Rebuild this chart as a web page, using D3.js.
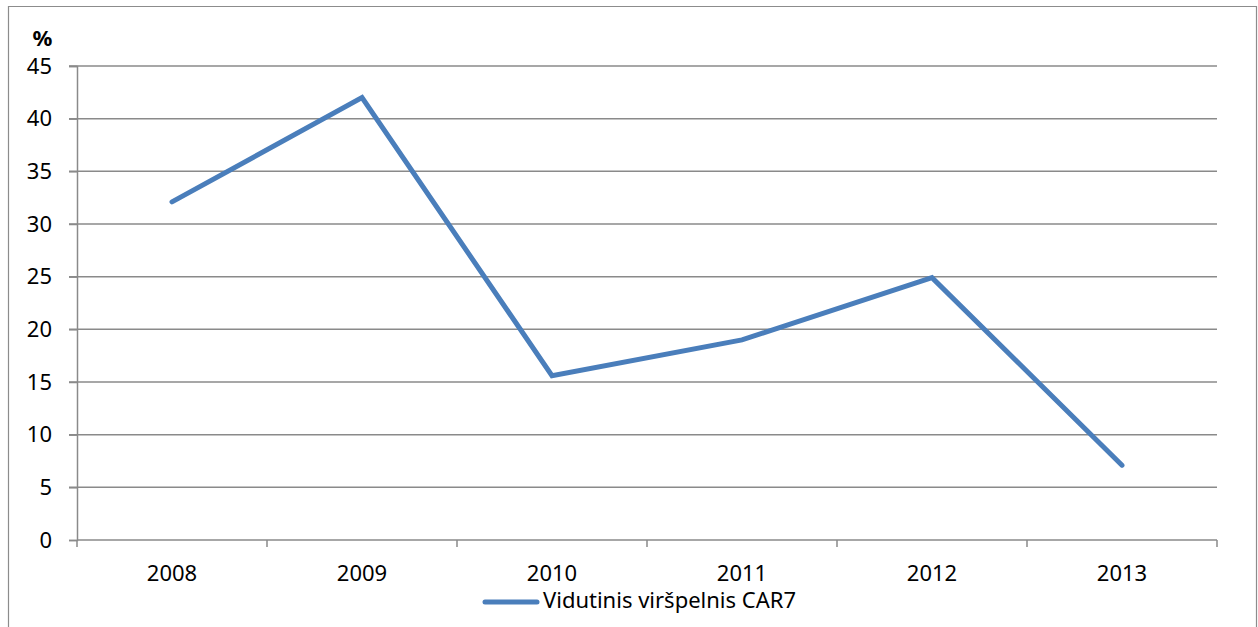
<!DOCTYPE html>
<html><head><meta charset="utf-8">
<script src="https://cdn.jsdelivr.net/npm/d3@7"></script>
<style>body{margin:0;background:#fff}svg{display:block}</style>
</head><body>
<script>
const categories = ["2008","2009","2010","2011","2012","2013"];
const values = [32.1, 42.0, 15.6, 19.0, 24.9, 7.1];
const yTicks = [0,5,10,15,20,25,30,35,40,45];
const seriesName = "Vidutinis viršpelnis CAR7";

(function(){
const W = 1258, H = 627;
const svg = d3.select("body").append("svg").attr("width", W).attr("height", H);
const font = "'Noto Sans', 'Open Sans', sans-serif";
const fs = 22;

// frame
svg.append("path").attr("d", `M8.5,${H} V6.5 H1256.5 V${H}`).attr("fill","none").attr("stroke","#8c8c8c").attr("stroke-width",1.2);

const pl = 77, pr = 1217, pt = 66, pb = 540;
const x = d3.scaleBand().domain(categories).range([pl, pr]);
const y = d3.scaleLinear().domain([0,45]).range([pb, pt]);

// gridlines
svg.append("g").selectAll("line").data(yTicks.filter(d=>d>0)).join("line")
  .attr("x1", pl-8).attr("x2", pr).attr("y1", d=>y(d)).attr("y2", d=>y(d))
  .attr("stroke","#8a8a8a").attr("stroke-width",1.5);

// y axis
const yAxis = d3.axisLeft(y).tickValues(yTicks).tickSize(8).tickPadding(17).tickFormat(d3.format("d"));
const gy = svg.append("g").attr("transform",`translate(${pl},0)`).call(yAxis);
gy.select(".domain").attr("stroke","#8a8a8a").attr("stroke-width",1.5);
gy.selectAll(".tick line").attr("stroke","#8a8a8a").attr("stroke-width",1.5);
gy.selectAll("text").attr("font-family",font).attr("font-size",fs).attr("fill","#000");

// x axis
const xAxis = d3.axisBottom(x).tickSize(0).tickPadding(25);
const gx = svg.append("g").attr("transform",`translate(0,${pb})`).call(xAxis);
gx.select(".domain").attr("d", `M${pl},0H${pr}`).attr("stroke","#8a8a8a").attr("stroke-width",1.5);
gx.selectAll("text").attr("font-family",font).attr("font-size",fs).attr("fill","#000");
const bounds = categories.map(c=>x(c)).concat([pr]);
svg.append("g").selectAll("line").data(bounds).join("line")
  .attr("x1",d=>d).attr("x2",d=>d).attr("y1",pb).attr("y2",pb+7)
  .attr("stroke","#8a8a8a").attr("stroke-width",1.5);

// % label
svg.append("text").attr("x",42.5).attr("y",46).attr("text-anchor","middle")
  .attr("font-family",font).attr("font-weight","bold").attr("font-size",fs).text("%");

// line
const line = d3.line().x((d,i)=>x(categories[i])+x.bandwidth()/2).y(d=>y(d));
svg.append("path").datum(values).attr("d",line).attr("fill","none")
  .attr("stroke","#4a7ebb").attr("stroke-width",5).attr("stroke-linejoin","miter").attr("stroke-linecap","round");

// legend
svg.append("line").attr("x1",485).attr("x2",537).attr("y1",602).attr("y2",602)
  .attr("stroke","#4a7ebb").attr("stroke-width",5).attr("stroke-linecap","round");
svg.append("text").attr("x",543).attr("y",608).attr("font-family",font).attr("font-size",fs).text(seriesName);
})();
</script>
</body></html>
